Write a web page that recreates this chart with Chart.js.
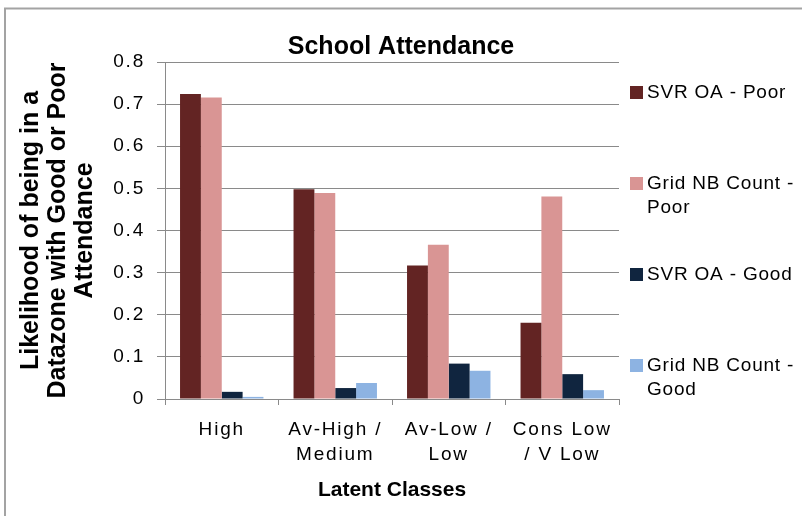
<!DOCTYPE html>
<html>
<head>
<meta charset="utf-8">
<script src="https://cdn.jsdelivr.net/npm/chart.js@4.4.1/dist/chart.umd.min.js"></script>
<style>
  html, body { margin: 0; padding: 0; background: #fff; }
  canvas { display: block; }
</style>
</head>
<body>
<canvas id="attChart" width="802" height="516"></canvas>
<script>
// latent classes on the x axis
const classes = ["High", ["Av-High /", "Medium"], ["Av-Low /", "Low"], ["Cons Low", "/ V Low"]];
const yTickLabels = ["0", "0.1", "0.2", "0.3", "0.4", "0.5", "0.6", "0.7", "0.8"];

// likelihoods
const svrPoor = [0.724, 0.498, 0.317, 0.181];
const gridPoor = [0.716, 0.489, 0.366, 0.481];
const svrGood = [0.017, 0.026, 0.084, 0.059];
const gridGood = [0.005, 0.038, 0.067, 0.021];

const seriesNames = [
  ["SVR OA - Poor"],
  ["Grid NB Count -", "Poor"],
  ["SVR OA - Good"],
  ["Grid NB Count -", "Good"]
];
const seriesColors = ["#632423", "#d99594", "#10253f", "#8db3e2"];

const gridCol = "#8a8a8a";
const fontFam = "'Liberation Sans', Arial, sans-serif";

// grey frame top + left like the original export
const framePlugin = {
  id: "frame",
  beforeDraw(chart) {
    const c = chart.ctx;
    c.save();
    c.strokeStyle = "#a3a3a3";
    c.lineWidth = 2;
    c.beginPath();
    c.moveTo(5, 516);
    c.lineTo(5, 8.5);
    c.lineTo(802, 8.5);
    c.stroke();
    c.restore();
  }
};

// tick labels are drawn after the bars (ticks.z = 1), spaced out a bit like the original
const spacedTicks = {
  id: "spacedTicks",
  afterDatasetsDraw(chart) { chart.ctx.letterSpacing = "1.8px"; },
  afterDraw(chart) { chart.ctx.letterSpacing = "0px"; }
};

// legend on the right, drawn by hand because of the two-line labels
const sideLegend = {
  id: "sideLegend",
  afterDraw(chart) {
    const c = chart.ctx;
    c.save();
    c.letterSpacing = "0.8px";
    c.font = "19px " + fontFam;
    c.textBaseline = "middle";
    let y = 92;
    chart.data.datasets.forEach((ds) => {
      c.fillStyle = ds.backgroundColor;
      c.fillRect(630, y - 6, 13, 13);
      c.fillStyle = "#000";
      ds.label.forEach((line, j) => {
        c.fillText(line, 647, y + 1 + j * 24);
      });
      y += 91;
    });
    c.restore();
  }
};

const chart = new Chart(document.getElementById("attChart"), {
  type: "bar",
  data: {
    labels: classes,
    datasets: [
      { label: seriesNames[0], data: svrPoor, backgroundColor: seriesColors[0] },
      { label: seriesNames[1], data: gridPoor, backgroundColor: seriesColors[1] },
      { label: seriesNames[2], data: svrGood, backgroundColor: seriesColors[2] },
      { label: seriesNames[3], data: gridGood, backgroundColor: seriesColors[3] }
    ]
  },
  options: {
    responsive: false,
    animation: false,
    devicePixelRatio: 1,
    datasets: {
      bar: { categoryPercentage: 0.735, barPercentage: 1.0 }
    },
    layout: { padding: 0 },
    plugins: {
      legend: { display: false },
      tooltip: { enabled: false },
      title: {
        display: true,
        text: "School Attendance",
        color: "#000",
        font: { family: fontFam, size: 25, weight: "bold" },
        padding: { top: 32, bottom: 0 }
      }
    },
    scales: {
      x: {
        afterFit(s) { s.height = 117; },
        grid: { display: true, drawOnChartArea: false, offset: true, tickLength: 6, color: gridCol },
        border: { color: gridCol, width: 1 },
        ticks: {
          z: 1,
          color: "#000",
          padding: 12,
          maxRotation: 0,
          font: { family: fontFam, size: 19, lineHeight: "25px" }
        },
        title: {
          display: true,
          text: "Latent Classes",
          color: "#000",
          font: { family: fontFam, size: 21, weight: "bold" },
          padding: { top: 4, bottom: 13 }
        }
      },
      y: {
        min: 0,
        max: 0.8,
        afterFit(s) { s.width = 165; },
        grid: { color: gridCol, tickLength: 8 },
        border: { color: gridCol, width: 1 },
        ticks: {
          z: 1,
          stepSize: 0.1,
          padding: 12,
          color: "#000",
          font: { family: fontFam, size: 19 },
          callback: (v, i) => yTickLabels[i]
        },
        title: {
          display: true,
          text: ["Likelihood of being in a", "Datazone with Good or Poor", "Attendance"],
          color: "#000",
          font: { family: fontFam, size: 25, weight: "bold", lineHeight: "27px" },
          padding: { top: 18, bottom: 0 }
        }
      },
      // empty box on the right that keeps room for the legend
      side: {
        position: "right",
        display: true,
        afterFit(s) { s.width = 183; },
        grid: { display: false },
        border: { display: false },
        ticks: { display: false }
      }
    }
  },
  plugins: [framePlugin, spacedTicks, sideLegend]
});
</script>
</body>
</html>
